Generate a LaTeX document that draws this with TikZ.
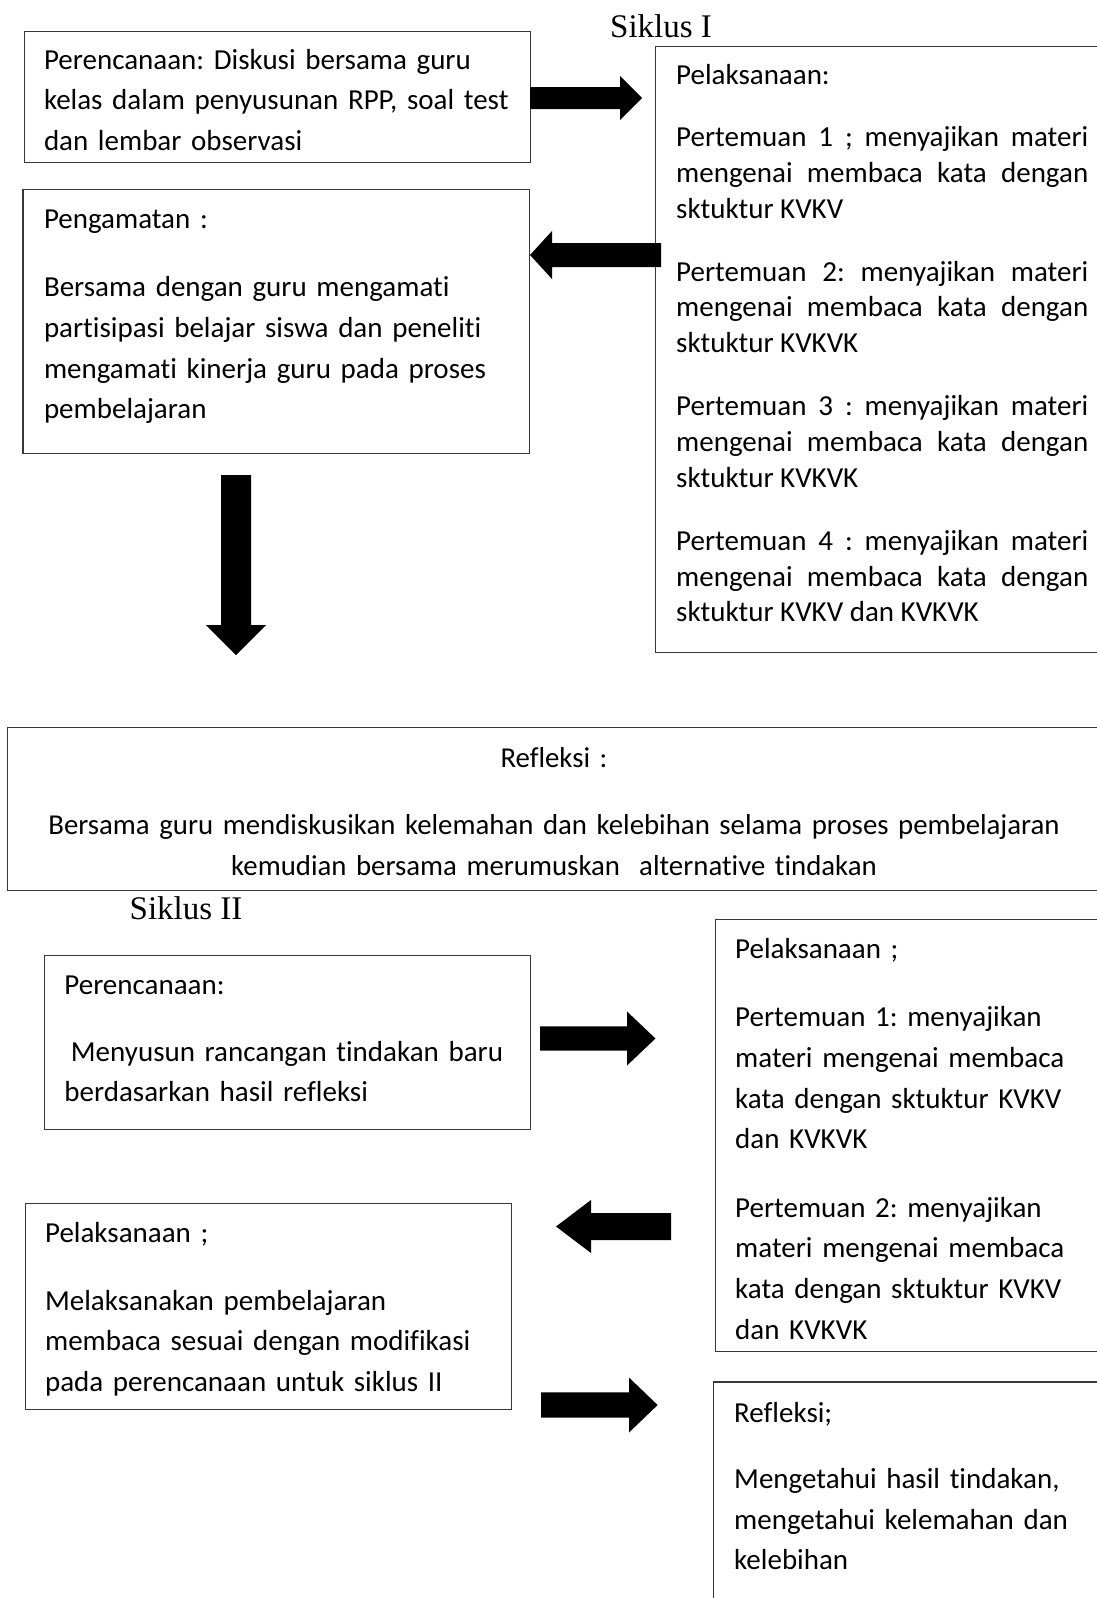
\documentclass[tikz,border=0pt]{standalone}
\usepackage{fontspec}
\setmainfont{Carlito}[Ligatures={NoCommon}]
\newfontfamily\timesf{Liberation Serif}
\frenchspacing
\hbadness=10000
\hyphenpenalty=10000
\newcommand{\fatH}[6]{\fill[black] (#1,#4-#5) -- (#2,#4-#5) -- (#2,#4-#6) -- (#3,#4) -- (#2,#4+#6) -- (#2,#4+#5) -- (#1,#4+#5) -- cycle;}
\newcommand{\fatV}[6]{\fill[black] (#1-#5,#2) -- (#1-#5,#3) -- (#1-#6,#3) -- (#1,#4) -- (#1+#6,#3) -- (#1+#5,#3) -- (#1+#5,#2) -- cycle;}
\begin{document}
\begin{tikzpicture}[x=1pt,y=-1pt,
  box/.style={draw=black!78, line width=1.3pt, inner sep=0pt, anchor=north west},
  txt/.style={anchor=base west, inner sep=0pt, font=\frenchspacing\fontsize{29}{40.8}\selectfont, align=left, text width=480pt},
  jtxt/.style={anchor=base west, inner sep=0pt, font=\frenchspacing\fontsize{29}{35.7}\selectfont, align=justify, text width=412pt},
  ctxt/.style={anchor=base, inner sep=0pt, font=\frenchspacing\fontsize{28.8}{40.8}\selectfont, align=center, text width=1080pt},
  title/.style={anchor=base west, inner sep=0pt, font=\timesf\fontsize{33}{38}\selectfont}]
\useasboundingbox (0,0) rectangle (1097,1598);
\clip (0,0) rectangle (1097,1598);
\fill[white] (0,0) rectangle (1097,1598);

% Siklus I
\node[title] (s1) at (610,37) {Siklus I};

\node[box, minimum width=506.5pt, minimum height=131.4pt] (plan1) at (23.5,30.6) {};
\node[txt] (plan1t) at (43.8,69) {Perencanaan: Diskusi bersama guru\\kelas dalam penyusunan RPP, soal test\\dan lembar observasi};

\node[box, minimum width=506.6pt, minimum height=264.1pt] (obs1) at (22.4,188.6) {};
\node[txt] (obs1a) at (43.8,228) {Pengamatan :};
\node[txt] (obs1b) at (43.8,296.5) {Bersama dengan guru mengamati\\partisipasi belajar siswa dan peneliti\\mengamati kinerja guru pada proses\\pembelajaran};

\node[box, minimum width=470pt, minimum height=605.5pt] (act1) at (654.5,46) {};
\node[txt] (act1a) at (676,84.4) {Pelaksanaan:};
\node[jtxt] (act1b) at (676,146.6) {Pertemuan 1 ; menyajikan materi\linebreak mengenai membaca kata dengan\linebreak sktuktur KVKV};
\node[jtxt] (act1c) at (676,281.2) {Pertemuan 2: menyajikan materi\linebreak mengenai membaca kata dengan\linebreak sktuktur KVKVK};
\node[jtxt] (act1d) at (676,415.8) {Pertemuan 3 : menyajikan materi\linebreak mengenai membaca kata dengan\linebreak sktuktur KVKVK};
\node[jtxt] (act1e) at (676,550.3) {Pertemuan 4 : menyajikan materi\linebreak mengenai membaca kata dengan\linebreak sktuktur KVKV dan KVKVK};

\node[box, minimum width=1120pt, minimum height=163pt] (refl1) at (7,727) {};
\node[ctxt] (refl1a) at (554,767.5) {Refleksi :};
\node[ctxt] (refl1b) at (554,834.8) {Bersama guru mendiskusikan kelemahan dan kelebihan selama proses pembelajaran\\kemudian bersama merumuskan\ \ alternative tindakan};

% Siklus II
\node[title] (s2) at (129.5,919) {Siklus II};

\node[box, minimum width=486.2pt, minimum height=173.6pt] (plan2) at (43.8,955) {};
\node[txt] (plan2a) at (64.2,994.8) {Perencanaan:};
\node[txt] (plan2b) at (64.2,1061) {\hspace*{0.226em}Menyusun rancangan tindakan baru\\berdasarkan hasil refleksi};

\node[box, minimum width=420pt, minimum height=432.2pt] (act2r) at (714.7,918.6) {};
\node[txt] (act2ra) at (735,958) {Pelaksanaan ;};
\node[txt] (act2rb) at (735,1026.4) {Pertemuan 1: menyajikan\\materi mengenai membaca\\kata dengan sktuktur KVKV\\dan KVKVK};
\node[txt] (act2rc) at (735,1217) {Pertemuan 2: menyajikan\\materi mengenai membaca\\kata dengan sktuktur KVKV\\dan KVKVK};

\node[box, minimum width=486.3pt, minimum height=206pt] (act2l) at (24.5,1203) {};
\node[txt] (act2la) at (44.9,1242.6) {Pelaksanaan ;};
\node[txt] (act2lb) at (44.9,1310) {Melaksanakan pembelajaran\\membaca sesuai dengan modifikasi\\pada perencanaan untuk siklus II};

\node[box, minimum width=420pt, minimum height=300pt] (refl2) at (712.6,1381.4) {};
\node[txt] (refl2a) at (734,1422) {Refleksi;};
\node[txt] (refl2b) at (734,1488.3) {Mengetahui hasil tindakan,\\mengetahui kelemahan dan\\kelebihan};

% block arrows
\fatH{530}{620}{642}{98}{11}{22}
\fatH{661}{552}{530}{255}{12}{24}
\fatV{236}{475}{625}{655}{15}{30}
\fatH{540}{627}{655.5}{1038.5}{12.2}{27}
\fatH{671}{591}{556}{1226.5}{13.5}{26.5}
\fatH{541}{629}{657.6}{1405}{12.7}{27.5}
\end{tikzpicture}
\end{document}
